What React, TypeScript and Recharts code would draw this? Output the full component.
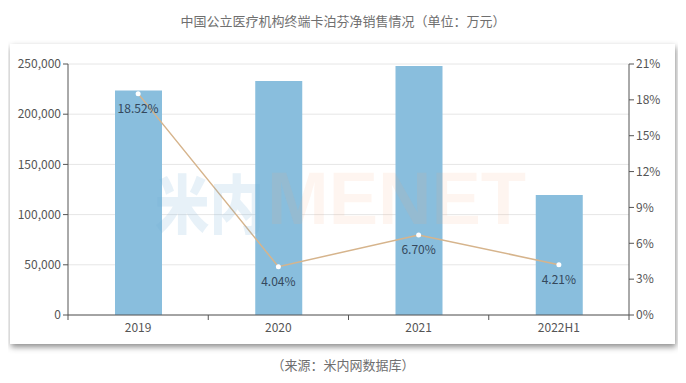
import {
  Bar,
  CartesianGrid,
  ComposedChart,
  LabelList,
  Line,
  XAxis,
  YAxis,
} from 'recharts'

const years = ['2019', '2020', '2021', '2022H1']
const sales = [223500, 233000, 248000, 119500]
const growth = [18.52, 4.04, 6.7, 4.21]
const salesTicks = [0, 50000, 100000, 150000, 200000, 250000]
const growthTicks = [0, 3, 6, 9, 12, 15, 18, 21]

const CHART_W = 665
const CHART_H = 300
const LEFT_W = 58
const RIGHT_W = 46
const band = (CHART_W - LEFT_W - RIGHT_W) / years.length

const data = years.map((y, i) => ({ year: y, sales: sales[i], growth: growth[i] }))

const font = '"Noto Sans CJK SC", "Noto Sans", sans-serif'

// category ticks sit on the band edges, labels stay centred
function YearTick(props: any) {
  const { x, y, payload, index } = props
  const last = index === years.length - 1
  return (
    <g>
      <line x1={x - band / 2} x2={x - band / 2} y1={y - 8} y2={y - 3} stroke='#555' />
      {last && <line x1={x + band / 2} x2={x + band / 2} y1={y - 8} y2={y - 3} stroke='#555' />}
      <text x={x} y={y + 9} textAnchor='middle' fontSize={12} fill='#555' fontFamily={font}>
        {payload.value}
      </text>
    </g>
  )
}

export default function App() {
  return (
    <div
      style={{
        position: 'relative',
        margin: -8,
        width: 686,
        height: 383,
        background: '#fff',
        fontFamily: font,
        overflow: 'hidden',
      }}
    >
      <div
        style={{
          position: 'absolute',
          top: 11,
          left: 0,
          width: 686,
          textAlign: 'center',
          fontSize: 13,
          color: '#6f6f6f',
        }}
      >
        中国公立医疗机构终端卡泊芬净销售情况（单位：万元）
      </div>
      <div
        style={{
          position: 'absolute',
          left: 10,
          top: 44,
          width: CHART_W,
          height: CHART_H,
          background: '#fff',
          boxShadow: '1px 3px 6px rgba(0,0,0,0.45)',
        }}
      >
        <ComposedChart
          width={CHART_W}
          height={CHART_H}
          data={data}
          margin={{ top: 20, right: 0, bottom: 0, left: 0 }}
        >
          <CartesianGrid vertical={false} stroke='#e6e6e6' yAxisId='left' />
          <XAxis
            dataKey='year'
            height={29}
            stroke='#555'
            tickLine={false}
            tick={<YearTick />}
            interval={0}
          />
          <YAxis
            yAxisId='left'
            width={LEFT_W}
            domain={[0, 250000]}
            ticks={salesTicks}
            stroke='#555'
            tickSize={5}
            tickMargin={2}
            tick={{ fontSize: 12, fill: '#555', fontFamily: font }}
            tickFormatter={(v: number) => v.toLocaleString('en-US')}
          />
          <YAxis
            yAxisId='right'
            orientation='right'
            width={RIGHT_W}
            domain={[0, 21]}
            ticks={growthTicks}
            stroke='#555'
            tickSize={5}
            tickMargin={2}
            tick={{ fontSize: 12, fill: '#555', fontFamily: font }}
            tickFormatter={(v: number) => `${v}%`}
          />
          <Bar
            yAxisId='left'
            dataKey='sales'
            barSize={47}
            fill='#89bedd'
            isAnimationActive={false}
          />
          <Line
            yAxisId='right'
            dataKey='growth'
            stroke='#d6b48c'
            strokeWidth={1.5}
            dot={{ r: 2.5, fill: '#fff', stroke: 'none' }}
            activeDot={false}
            isAnimationActive={false}
          >
            <LabelList
              dataKey='growth'
              position='bottom'
              offset={11}
              fontSize={12}
              fill='#34485c'
              fontFamily={font}
              formatter={(v: any) => `${Number(v).toFixed(2)}%`}
            />
          </Line>
        </ComposedChart>
        {/* faint brand watermark over the plot */}
        <div
          style={{
            position: 'absolute',
            left: 145,
            top: 115,
            fontSize: 74,
            lineHeight: '74px',
            fontWeight: 700,
            pointerEvents: 'none',
            whiteSpace: 'nowrap',
            fontFamily: '"Liberation Sans", Arial, sans-serif',
          }}
        >
          <span
            style={{
              display: 'inline-block',
              width: 112,
              fontSize: 64,
              fontWeight: 900,
              fontFamily: '"Noto Sans CJK SC", sans-serif',
              transform: 'translateY(4px) scaleX(0.85)',
              transformOrigin: 'left',
              color: 'rgba(110,170,215,0.17)',
              whiteSpace: 'nowrap',
            }}
          >
            米内
          </span>
          <span style={{ color: 'rgba(245,165,115,0.11)' }}>MENET</span>
        </div>
      </div>
      <div
        style={{
          position: 'absolute',
          top: 355,
          left: 0,
          width: 686,
          textAlign: 'center',
          fontSize: 13,
          color: '#6f6f6f',
        }}
      >
        （来源：米内网数据库）
      </div>
    </div>
  )
}
